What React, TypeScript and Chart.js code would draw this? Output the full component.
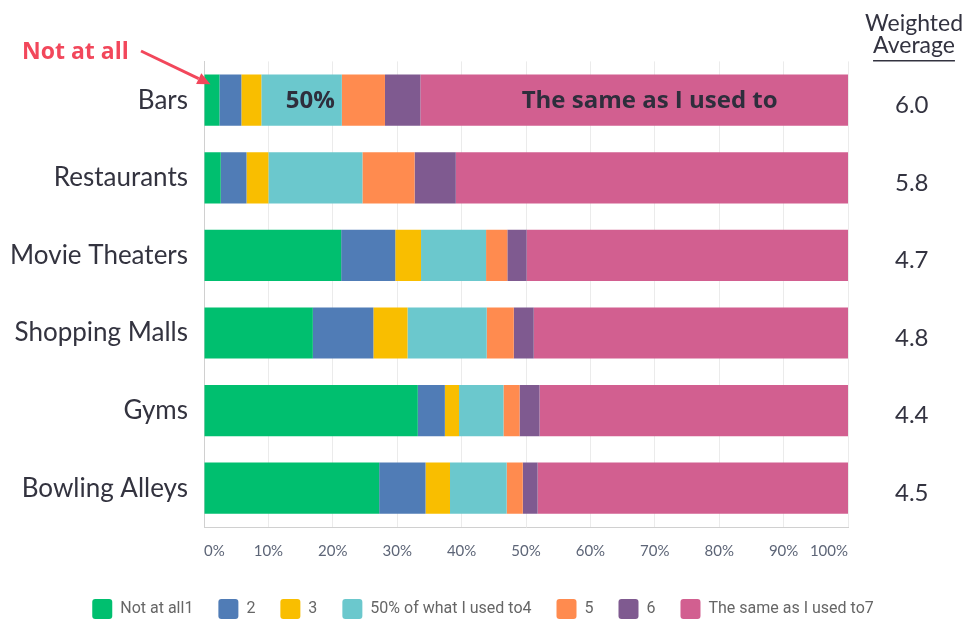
import { useEffect, useRef } from "react";
import { Chart, registerables } from "chart.js";

Chart.register(...registerables);

const categories = ["Bars", "Restaurants", "Movie Theaters", "Shopping Malls", "Gyms", "Bowling Alleys"];
const seriesLabels = ["Not at all1", "2", "3", "50% of what I used to4", "5", "6", "The same as I used to7"];
const notAtAll = [2.4, 2.6, 21.3, 16.9, 33.2, 27.2];
const two = [3.4, 4.0, 8.4, 9.4, 4.2, 7.2];
const three = [3.1, 3.4, 4.0, 5.3, 2.2, 3.8];
const fiftyPct = [12.5, 14.6, 10.1, 12.3, 6.9, 8.8];
const five = [6.7, 8.1, 3.3, 4.2, 2.5, 2.5];
const six = [5.5, 6.4, 3.0, 3.1, 3.1, 2.3];
const same = [66.4, 60.9, 49.9, 48.8, 47.9, 48.2];
const weightedAvg = ["6.0", "5.8", "4.7", "4.8", "4.4", "4.5"];
const headerLines = ["Weighted", "Average"];
const colors = ["#00bf6f", "#507cb6", "#f9be00", "#6bc8cd", "#ff8b4f", "#7f5a90", "#d25f90"];

const FONT = "Lato, 'Open Sans', sans-serif";
const BOLD_FONT = "'Open Sans', Lato, sans-serif";
const LEGEND_FONT = "Roboto, 'Noto Sans', sans-serif";

export default function App() {
  const ref = useRef<HTMLCanvasElement>(null);
  useEffect(() => {
    if (!ref.current) return;
    const seriesData = [notAtAll, two, three, fiftyPct, five, six, same];

    const annot = {
      id: "annot",
      afterDraw(chart: any) {
        const { ctx } = chart;
        const x = chart.scales.x;
        const y = chart.scales.y;
        const y2 = chart.scales.y2;
        ctx.save();
        // header
        const cx = y2.left + 66;
        ctx.fillStyle = "#333340";
        ctx.font = `23px ${FONT}`;
        ctx.textAlign = "center";
        ctx.textBaseline = "alphabetic";
        ctx.fillText(headerLines[0], cx, 31);
        ctx.fillText(headerLines[1], cx, 53);
        const w = ctx.measureText(headerLines[1]).width;
        ctx.fillRect(cx - w / 2, 60, w, 1.5);

        // in-bar labels
        const yb = y.getPixelForValue(0);
        ctx.font = `bold 24px ${BOLD_FONT}`;
        ctx.fillStyle = "#2e2e3c";
        ctx.textBaseline = "middle";
        ctx.fillText("50%", x.getPixelForValue(16.5), yb + 1);
        ctx.fillText("The same as I used to", x.getPixelForValue(69.2), yb + 1);

        // "Not at all" annotation
        ctx.font = `bold 23px ${BOLD_FONT}`;
        ctx.textAlign = "left";
        ctx.textBaseline = "alphabetic";
        ctx.fillStyle = "#f2475b";
        ctx.fillText("Not at all", 22, 59);

        // arrow
        const sx = 141, sy = 51;
        const tx = x.getPixelForValue(1), ty = yb - 16;
        const ang = Math.atan2(ty - sy, tx - sx);
        const hl = 13, hw = 6;
        const bx = tx - hl * Math.cos(ang), by = ty - hl * Math.sin(ang);
        ctx.strokeStyle = "#f2475b";
        ctx.lineWidth = 3;
        ctx.beginPath();
        ctx.moveTo(sx, sy);
        ctx.lineTo(bx, by);
        ctx.stroke();
        ctx.beginPath();
        ctx.moveTo(tx, ty);
        ctx.lineTo(bx + hw * Math.sin(ang), by - hw * Math.cos(ang));
        ctx.lineTo(bx - hw * Math.sin(ang), by + hw * Math.cos(ang));
        ctx.closePath();
        ctx.fill();
        ctx.restore();
      },
    };

    const chart = new Chart(ref.current, {
      type: "bar",
      data: {
        labels: categories,
        datasets: seriesLabels.map((l, i) => ({
          label: l,
          data: seriesData[i],
          backgroundColor: colors[i],
          borderWidth: 0,
          categoryPercentage: 1,
          barPercentage: 0.66,
        })),
      },
      options: {
        indexAxis: "y",
        animation: false,
        responsive: true,
        maintainAspectRatio: false,
        layout: { padding: { top: 59, left: 0, right: 0, bottom: 1 } },
        scales: {
          x: {
            stacked: true,
            min: 0,
            max: 100,
            position: "bottom",
            grid: { color: "#ebebeb", drawTicks: false },
            border: { color: "#d0d0d0", width: 1 },
            ticks: {
              stepSize: 10,
              padding: 15,
              align: "inner",
              color: "#5d6577",
              font: { family: FONT, size: 15 },
              callback: (v: any) => v + "%",
            },
            afterFit: (s: any) => {
              s.height = 47;
            },
          },
          y: {
            stacked: true,
            grid: { display: false, drawTicks: false },
            border: { color: "#d0d0d0", width: 1 },
            ticks: { padding: 16, color: "#33333f", font: { family: FONT, size: 26 } },
            afterFit: (s: any) => {
              s.width = 204;
            },
          },
          y2: {
            type: "category",
            labels: weightedAvg,
            position: "right",
            offset: true,
            grid: { display: false, drawTicks: false },
            border: { display: false },
            ticks: { padding: 47, labelOffset: 5, color: "#333340", font: { family: FONT, size: 24 } },
            afterFit: (s: any) => {
              s.width = 118;
            },
          },
        } as any,
        plugins: {
          legend: {
            position: "bottom",
            labels: {
              boxWidth: 20,
              boxHeight: 20,
              padding: 25,
              color: "#666666",
              useBorderRadius: true,
              borderRadius: 3,
              font: { family: LEGEND_FONT, size: 16 },
            },
          } as any,
          tooltip: { enabled: false },
        },
      },
      plugins: [annot],
    });
    return () => chart.destroy();
  }, []);

  return (
    <div style={{ position: "absolute", left: 0, top: 0, width: 966, height: 620, overflow: "hidden", background: "#fff" }}>
      <div style={{ position: "relative", width: 966, height: 630 }}>
        <canvas ref={ref} />
      </div>
    </div>
  );
}
